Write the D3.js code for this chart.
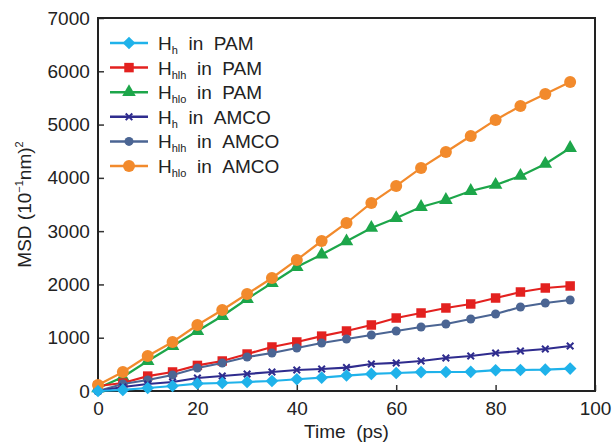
<!DOCTYPE html>
<html>
<head>
<meta charset="utf-8">
<script src="https://cdn.jsdelivr.net/npm/d3@7"></script>
<style>
  body { margin: 0; background: #fff; }
  text { font-family: "Liberation Sans", Arial, sans-serif; fill: #222; }
</style>
</head>
<body>
<div id="chart"></div>
<script>
// time points (ps)
const times = [0, 5, 10, 15, 20, 25, 30, 35, 40, 45, 50, 55, 60, 65, 70, 75, 80, 85, 90, 95];

// MSD values
const hhPAM = [0, 20, 56, 94, 140, 150, 169, 188, 220, 250, 290, 320, 338, 355, 357, 360, 390, 394, 400, 420];
const hhlhPAM = [94, 150, 280, 357, 480, 563, 694, 826, 920, 1030, 1126, 1239, 1370, 1464, 1558, 1633, 1745, 1858, 1933, 1971];
const hhloPAM = [50, 263, 563, 845, 1126, 1408, 1727, 2027, 2327, 2560, 2810, 3060, 3247, 3454, 3585, 3754, 3867, 4036, 4261, 4561];
const hhAMCO = [0, 75, 131, 169, 244, 282, 319, 357, 394, 413, 440, 507, 526, 563, 619, 657, 713, 751, 788, 845];
const hhlhAMCO = [0, 131, 206, 300, 432, 526, 638, 713, 807, 901, 976, 1051, 1126, 1201, 1258, 1351, 1445, 1576, 1652, 1708];
const hhloAMCO = [113, 357, 657, 920, 1239, 1520, 1820, 2121, 2459, 2815, 3153, 3529, 3848, 4186, 4486, 4786, 5087, 5350, 5575, 5800];

const xTicks = [0, 20, 40, 60, 80, 100];
const yTicks = [0, 1000, 2000, 3000, 4000, 5000, 6000, 7000];

const series = [
  { sub: "h", host: "PAM", values: hhPAM, color: "#1fb2ea", shape: "diamond" },
  { sub: "hlh", host: "PAM", values: hhlhPAM, color: "#e3211f", shape: "square" },
  { sub: "hlo", host: "PAM", values: hhloPAM, color: "#1da64a", shape: "triangle" },
  { sub: "h", host: "AMCO", values: hhAMCO, color: "#2f2c8e", shape: "cross" },
  { sub: "hlh", host: "AMCO", values: hhlhAMCO, color: "#4b6593", shape: "circleS" },
  { sub: "hlo", host: "AMCO", values: hhloAMCO, color: "#f28a2c", shape: "circle" }
];

const width = 616, height = 445;
const margin = { top: 18, right: 21, bottom: 54, left: 98 };
const w = width - margin.left - margin.right;
const h = height - margin.top - margin.bottom;

const svg = d3.select("#chart").append("svg")
    .attr("width", width)
    .attr("height", height);

const g = svg.append("g")
    .attr("transform", `translate(${margin.left},${margin.top})`);

const x = d3.scaleLinear().domain([0, 100]).range([0, w]);
const y = d3.scaleLinear().domain([0, 7000]).range([h, 0]);

// axes with inward ticks
const xAxis = g.append("g")
    .attr("transform", `translate(0,${h})`)
    .call(d3.axisBottom(x).tickValues(xTicks).tickFormat(d3.format("d"))
      .tickSizeInner(-6).tickSizeOuter(0).tickPadding(11));
const yAxis = g.append("g")
    .call(d3.axisLeft(y).tickValues(yTicks).tickFormat(d3.format("d"))
      .tickSizeInner(-6).tickSizeOuter(0).tickPadding(12));

[xAxis, yAxis].forEach(a => {
  a.select(".domain").remove();
  a.selectAll(".tick line").attr("stroke", "#333").attr("stroke-width", 1.5);
  a.selectAll(".tick text")
    .attr("font-family", "Liberation Sans, Arial, sans-serif")
    .attr("font-size", 19)
    .attr("fill", "#222");
});
yAxis.selectAll(".tick text").attr("dx", "0.2em");

// frame
g.append("rect")
    .attr("width", w)
    .attr("height", h)
    .attr("fill", "none")
    .attr("stroke", "#222")
    .attr("stroke-width", 2);

const line = d3.line()
    .x((d, i) => x(times[i]))
    .y(d => y(d));

function drawMarker(sel, shape, color) {
  if (shape === "diamond") {
    sel.append("path").attr("d", d3.symbol(d3.symbolSquare, 80)())
      .attr("transform", "rotate(45)").attr("fill", color);
  } else if (shape === "square") {
    sel.append("path").attr("d", d3.symbol(d3.symbolSquare, 90)()).attr("fill", color);
  } else if (shape === "triangle") {
    sel.append("path").attr("d", d3.symbol(d3.symbolTriangle, 80)()).attr("fill", color);
  } else if (shape === "cross") {
    sel.append("path").attr("d", d3.symbol(d3.symbolTimes, 30)())
      .attr("fill", "none").attr("stroke", color).attr("stroke-width", 2);
  } else if (shape === "circleS") {
    sel.append("circle").attr("r", 4.5).attr("fill", color);
  } else {
    sel.append("circle").attr("r", 6).attr("fill", color);
  }
}

// draw order: keep orange above green, cyan on top at the bottom
const drawOrder = [2, 1, 4, 3, 5, 0];
drawOrder.forEach(k => {
  const s = series[k];
  const sg = g.append("g");
  sg.append("path")
    .datum(s.values)
    .attr("d", line)
    .attr("fill", "none")
    .attr("stroke", s.color)
    .attr("stroke-width", 2.2);
  sg.selectAll("g.pt")
    .data(s.values)
    .enter()
    .append("g")
    .attr("class", "pt")
    .attr("transform", (d, i) => `translate(${x(times[i])},${y(d)})`)
    .each(function() { drawMarker(d3.select(this), s.shape, s.color); });
});

// legend
const legend = svg.append("g").attr("transform", "translate(110,43)");
series.forEach((s, i) => {
  const row = legend.append("g").attr("transform", `translate(0,${i * 24.6})`);
  row.append("line")
    .attr("x1", 0).attr("x2", 38)
    .attr("stroke", s.color).attr("stroke-width", 2.5);
  const m = row.append("g").attr("transform", "translate(19,0)");
  drawMarker(m, s.shape, s.color);
  const t = row.append("text")
    .attr("x", 48)
    .attr("y", 7)
    .attr("font-size", 19);
  t.append("tspan").text("H");
  t.append("tspan").attr("font-size", 11).attr("dy", 4).text(s.sub);
  t.append("tspan").attr("dy", -4).text("\u00a0\u00a0in\u00a0\u00a0" + s.host);
});

// axis titles
svg.append("text")
    .attr("x", margin.left + w / 2)
    .attr("y", 438)
    .attr("text-anchor", "middle")
    .attr("font-size", 19)
    .text("Time\u00a0\u00a0(ps)");

const yt = svg.append("text")
    .attr("transform", `translate(31,${margin.top + h / 2}) rotate(-90)`)
    .attr("text-anchor", "middle")
    .attr("font-size", 19);
yt.append("tspan").text("MSD (10");
yt.append("tspan").attr("font-size", 11).attr("dy", -8).text("\u22121");
yt.append("tspan").attr("dy", 8).text("nm)");
yt.append("tspan").attr("font-size", 11).attr("dy", -8).text("2");
</script>
</body>
</html>
